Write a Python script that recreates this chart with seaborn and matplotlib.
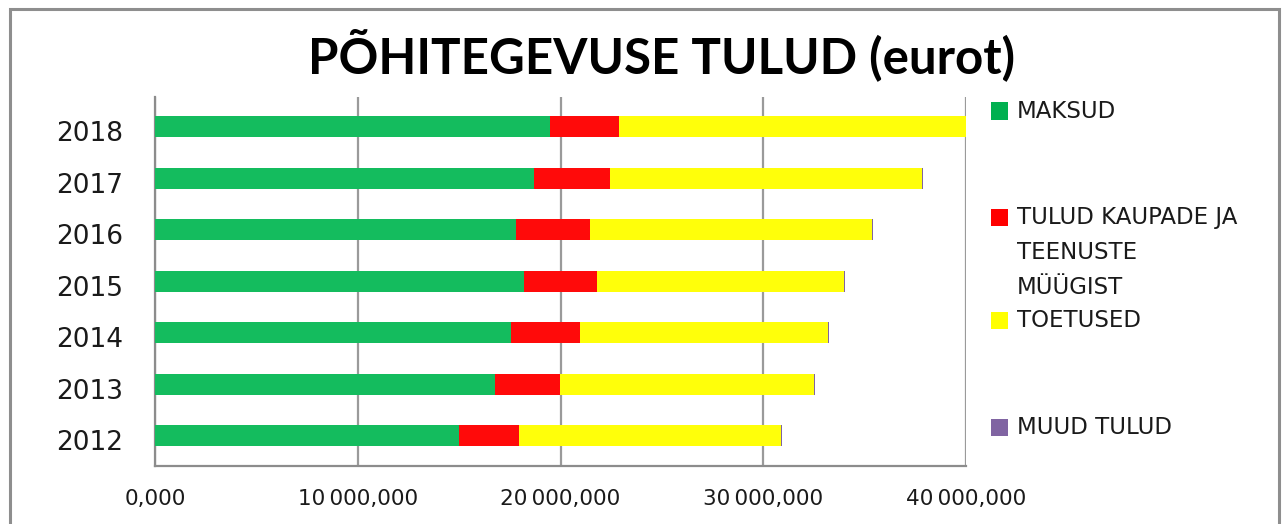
import pandas as pd
import seaborn as sns
import matplotlib.pyplot as plt
from matplotlib.patches import Rectangle

# andmed (eurot)
aastad = ['2018', '2017', '2016', '2015', '2014', '2013', '2012']
maksud = [19480000, 18670000, 17800000, 18180000, 17540000, 16790000, 15010000]
kaupade_muuk = [3410000, 3750000, 3650000, 3620000, 3410000, 3200000, 2930000]
toetused = [17110000, 15390000, 13900000, 12170000, 12220000, 12530000, 12940000]
muud_tulud = [60000, 50000, 50000, 50000, 50000, 50000, 60000]

x_ticks = [0, 10000000, 20000000, 30000000, 40000000]
x_tick_labels = ['0,000', '10\u202f000,000', '20\u202f000,000', '30\u202f000,000', '40\u202f000,000']

seeriad = ['MAKSUD', 'TULUD KAUPADE JA\nTEENUSTE\nMÜÜGIST', 'TOETUSED', 'MUUD TULUD']
varvid = ['#14BC5E', '#FF0A0A', '#FFFF0A', '#8064A2']
legendi_varvid = ['#00B050', '#FF0000', '#FFFF00', '#8064A2']

df = pd.DataFrame({'aasta': aastad, 'maksud': maksud, 'kaupade': kaupade_muuk,
                   'toetused': toetused, 'muud': muud_tulud})
df['c1'] = df['maksud']
df['c2'] = df['c1'] + df['kaupade']
df['c3'] = df['c2'] + df['toetused']
df['c4'] = df['c3'] + df['muud']

sns.set_style('white')
plt.rcParams['font.family'] = ['DejaVu Sans']

fig = plt.figure(figsize=(12.84, 5.24), dpi=100)
ax = fig.add_axes([155 / 1284, 1 - 466 / 524, (966 - 155) / 1284, (466 - 97) / 524])

# kuhjatud tulbad: suuremast väiksemani üle joonistatud
for col, color in zip(['c4', 'c3', 'c2', 'c1'], varvid[::-1]):
    sns.barplot(data=df, x=col, y='aasta', order=aastad, orient='h', color=color,
                width=0.41, linewidth=0, saturation=1, ax=ax, zorder=3)

# tulbad on kategooria keskest veidi ülespoole nihutatud nagu originaalis
nihe = 0.087
ax.set_xlim(0, 40000000)
ax.set_ylim(6.5 + nihe, -0.665 + nihe)
ax.set_xticks(x_ticks)
ax.set_xticklabels(x_tick_labels, fontsize=15.5, color='#1a1a1a')
ax.set_yticks([i + nihe for i in range(len(aastad))])
ax.set_yticklabels(aastad, fontsize=19, color='#1a1a1a')
ax.set_yticks([i + 0.5 + nihe for i in range(-1, len(aastad))], minor=True)
ax.tick_params(axis='y', which='major', length=0, pad=23)
ax.tick_params(axis='y', which='minor', length=8 / 1.389, width=1.5, color='#8c8c8c', direction='out')
ax.tick_params(axis='x', length=8 / 1.389, width=1.5, color='#8c8c8c', direction='out', pad=11)
ax.set_xlabel('')
ax.set_ylabel('')
ax.grid(axis='x', color='#9a9a9a', linewidth=1.6, zorder=0)
ax.set_axisbelow(True)
for s in ['top', 'right']:
    ax.spines[s].set_visible(False)
for s in ['left', 'bottom']:
    ax.spines[s].set_color('#8c8c8c')
    ax.spines[s].set_linewidth(1.6)

# pealkiri
fig.text(662 / 1284, 1 - 55 / 524, 'PÕHITEGEVUSE TULUD (eurot)', ha='center', va='center',
         fontsize=35.5, fontweight='bold', color='black', family=['Lato', 'DejaVu Sans'])

# legend
legendi_y = [111, 217, 320, 427]
for nimi, color, y in zip(seeriad, legendi_varvid, legendi_y):
    fig.patches.append(Rectangle((991 / 1284, 1 - (y + 8.5) / 524), 17 / 1284, 17 / 524,
                                 transform=fig.transFigure, facecolor=color, edgecolor='none'))
    fig.text(1017 / 1284, 1 - (y - 11) / 524, nimi, ha='left', va='top', fontsize=16.5,
             color='#1a1a1a', linespacing=1.68)

# raam
fig.patches.append(Rectangle((9.5 / 1284, -0.05), (1279 - 9.5) / 1284, 1.05 - 9 / 524,
                             transform=fig.transFigure, facecolor='none',
                             edgecolor='#8e8e8e', linewidth=2.2))

fig.savefig('out.png', dpi=100)
